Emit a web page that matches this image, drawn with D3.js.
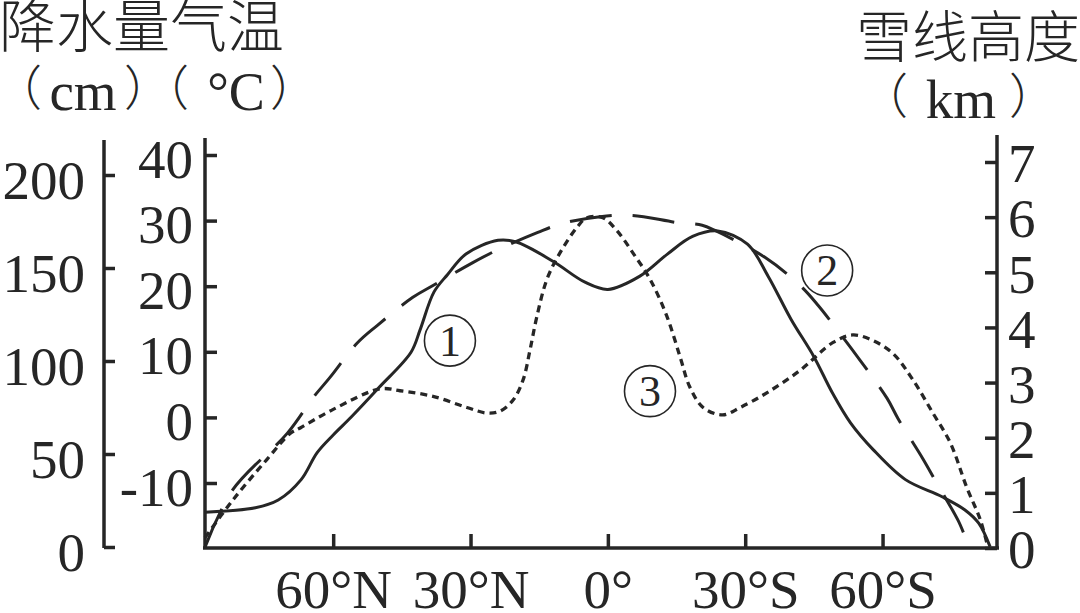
<!DOCTYPE html>
<html><head><meta charset="utf-8">
<script src="https://cdn.jsdelivr.net/npm/d3@7"></script>
<style>
html,body{margin:0;padding:0;background:#fff;}
svg{display:block;}
.num{font-family:"Liberation Serif","Times New Roman",serif;fill:#262626;}
.cjk{font-family:"Noto Sans CJK SC","Noto Sans",sans-serif;fill:#262626;font-weight:300;}
</style></head>
<body>
<svg id="chart" width="1080" height="613"></svg>
<script>
// ---------- data ----------
const precipTicks = [0, 50, 100, 150, 200];
const tempTicks = [-10, 0, 10, 20, 30, 40];
const snowTicks = [0, 1, 2, 3, 4, 5, 6, 7];
const latTicks = [60, 30, 0, -30, -60];
const latLabels = ["60°N", "30°N", "0°", "30°S", "60°S"];

// ① snow line height (km)
const snowLat = [88, 77, 72, 67, 63.5, 60, 56, 50, 43, 41, 38, 35, 31, 24, 20, 12, 5, 0, -7, -13, -18.5, -24, -30.5, -35, -40, -45, -49, -53, -58, -65, -73, -78, -81, -83.5];
const snowKm = [0.65, 0.73, 0.87, 1.24, 1.73, 2.05, 2.38, 2.91, 3.55, 3.96, 4.64, 4.96, 5.33, 5.58, 5.55, 5.2, 4.82, 4.69, 4.93, 5.33, 5.65, 5.75, 5.51, 4.93, 4.15, 3.47, 2.82, 2.27, 1.78, 1.24, 0.93, 0.69, 0.45, 0.02];

// ② temperature (°C)
const tempLat = [88, 82, 70, 64.4, 60.7, 54.8, 50.4, 42.6, 38.2, 29.5, 24.2, 15.3, 9.8, 1.7, -5.3, -15.1, -20.6, -23.4, -34.3, -42, -45.9, -50.7, -55.1, -61, -63.4, -68.8, -71.5, -76.5, -78.7, -79.8];
const tempC = [-19.8, -11.1, -2.4, 3.0, 6.1, 11.3, 14.0, 18.3, 20.1, 23.6, 25.5, 28.2, 29.6, 30.6, 30.8, 29.7, 29.3, 28.5, 24.4, 20.1, 17.1, 12.8, 8.7, 2.9, -0.2, -6.3, -9.6, -15.7, -19.1, -20];

// ③ precipitation (cm)
const precLat = [88, 82, 74.5, 69.4, 67.2, 60, 49.8, 45.4, 38.2, 30.8, 26.4, 23.6, 20.7, 18.5, 17, 15.5, 13.3, 10.5, 6.7, 4.6, 1.1, -2, -5.5, -9.2, -12.9, -15.8, -17.9, -20.8, -25.1, -28.9, -34.8, -42, -49.2, -53.5, -57.9, -62.3, -66.6, -71, -74.8, -78.4, -81.3, -83];
const precCm = [5, 25, 47, 61, 64, 74, 85, 84, 81, 75, 72, 73, 79, 90, 106, 124, 144, 158, 172, 177, 177, 170, 158, 144, 124, 102, 86, 75, 71, 75, 83, 95, 110, 114, 111, 104, 90, 72, 56, 32, 15, 0];

// circled series labels
const markText = ["1", "2", "3"];
const markLat = [34.5, -47.9, -9.2];
const markTemp = [11.7, 22.4, 4.0];

// ---------- layout ----------
const svg = d3.select("#chart");
const ink = "#262626";
const x = d3.scaleLinear().domain([88, -85]).range([205, 997]);
const yPrec = d3.scaleLinear().domain([0, 200]).range([547, 175]);
const yTemp = d3.scaleLinear().domain([-10, 40]).range([483, 155]);
const ySnow = d3.scaleLinear().domain([0, 7]).range([548, 162]);

function styleAxis(g) {
  g.select(".domain").remove();
  g.selectAll(".tick line").attr("stroke", ink).attr("stroke-width", 3.5);
  g.selectAll(".tick text").attr("class", "num").attr("font-size", 55).attr("fill", ink);
}

// precipitation axis
const gP = svg.append("g").attr("transform", "translate(104,0)")
  .call(d3.axisLeft(yPrec).tickValues(precipTicks).tickSizeInner(-11).tickSizeOuter(0).tickPadding(19));
styleAxis(gP);
gP.selectAll(".tick text").attr("dy", "0.42em");
svg.append("line").attr("x1", 104).attr("x2", 104).attr("y1", 140).attr("y2", 548).attr("stroke", ink).attr("stroke-width", 3.5);

// temperature axis
const gT = svg.append("g").attr("transform", "translate(205,0)")
  .call(d3.axisLeft(yTemp).tickValues(tempTicks).tickSizeInner(-12).tickSizeOuter(0).tickPadding(12)
    .tickFormat(d => d < 0 ? "-" + Math.abs(d) : d));
styleAxis(gT);
gT.selectAll(".tick text").attr("dy", "0.4em");
svg.append("line").attr("x1", 205).attr("x2", 205).attr("y1", 138).attr("y2", 549).attr("stroke", ink).attr("stroke-width", 3.5);

// snow line axis
const gS = svg.append("g").attr("transform", "translate(997,0)")
  .call(d3.axisRight(ySnow).tickValues(snowTicks).tickSizeInner(-12).tickSizeOuter(0).tickPadding(11)
    .tickFormat(d3.format("d")));
styleAxis(gS);
gS.selectAll(".tick text").attr("dy", "0.36em");
svg.append("line").attr("x1", 997).attr("x2", 997).attr("y1", 135).attr("y2", 549).attr("stroke", ink).attr("stroke-width", 3.5);

// latitude axis
const gX = svg.append("g").attr("transform", "translate(0,548)")
  .call(d3.axisBottom(x).tickValues(latTicks).tickSizeInner(-14).tickSizeOuter(0).tickPadding(0)
    .tickFormat((d, i) => latLabels[i]));
styleAxis(gX);
gX.selectAll(".tick text").attr("dy", 0).attr("y", 60);
svg.append("line").attr("x1", 203).attr("x2", 999).attr("y1", 548).attr("y2", 548).attr("stroke", ink).attr("stroke-width", 3.5);

// ---------- lines ----------
const curve = d3.curveCatmullRom.alpha(0.5);
const lineSnow = d3.line().x((d, i) => x(snowLat[i])).y(d => ySnow(d)).curve(curve);
const lineTemp = d3.line().x((d, i) => x(tempLat[i])).y(d => yTemp(d)).curve(curve);
const linePrec = d3.line().x((d, i) => x(precLat[i])).y(d => yPrec(d)).curve(curve);

svg.append("path").attr("d", lineTemp(tempC)).attr("fill", "none").attr("stroke", ink)
  .attr("stroke-width", 3).attr("stroke-dasharray", "42,21");
svg.append("path").attr("d", linePrec(precCm)).attr("fill", "none").attr("stroke", ink)
  .attr("stroke-width", 3.3).attr("stroke-dasharray", "7,5");
svg.append("path").attr("d", lineSnow(snowKm)).attr("fill", "none").attr("stroke", ink)
  .attr("stroke-width", 3).attr("stroke-linejoin", "round");

// ---------- circled labels ----------
markText.forEach((t, i) => {
  const cx = x(markLat[i]), cy = yTemp(markTemp[i]);
  svg.append("circle").attr("cx", cx).attr("cy", cy).attr("r", 25.5)
    .attr("fill", "none").attr("stroke", ink).attr("stroke-width", 1.6);
  svg.append("text").attr("class", "num").attr("x", cx).attr("y", cy + 15)
    .attr("text-anchor", "middle").attr("font-size", 44).text(t);
});

// ---------- titles ----------
svg.append("text").attr("class", "cjk").attr("x", -1).attr("y", 47).attr("font-size", 57).text("降水量气温");
svg.append("text").attr("class", "cjk").attr("x", 1080).attr("y", 57).attr("text-anchor", "end").attr("font-size", 56).text("雪线高度");

// units: fullwidth parentheses drawn so that their ink lands at given centres
function units(items, baseNum, baseCjk) {
  items.forEach(u => {
    let xx = u.x;
    if (u.t === "（") xx = u.x - 13;
    if (u.t === "）") xx = u.x + 13;
    svg.append("text").attr("class", u.f).attr("x", xx).attr("y", u.f === "cjk" ? baseCjk : baseNum)
      .attr("text-anchor", "middle").attr("font-size", u.s).text(u.t);
  });
}
units([
  {t: "（", x: 31, f: "cjk", s: 48},
  {t: "cm", x: 83, f: "num", s: 55},
  {t: "）", x: 135, f: "cjk", s: 48},
  {t: "（", x: 178, f: "cjk", s: 48},
  {t: "°C", x: 236, f: "num", s: 54},
  {t: "）", x: 281, f: "cjk", s: 48}
], 110, 105);
units([
  {t: "（", x: 897, f: "cjk", s: 48},
  {t: "km", x: 961, f: "num", s: 55},
  {t: "）", x: 1020, f: "cjk", s: 48}
], 118, 113);
</script>
</body></html>
